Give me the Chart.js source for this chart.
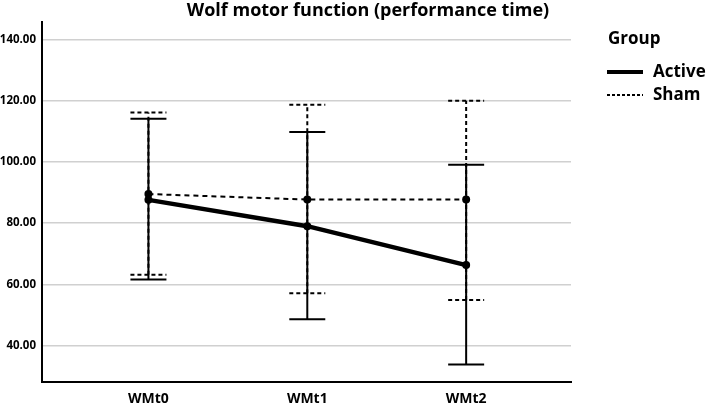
<!DOCTYPE html>
<html>
<head>
<meta charset="utf-8">
<script src="https://cdn.jsdelivr.net/npm/chart.js@4"></script>
<style>
  html, body { margin: 0; padding: 0; background: #fff; }
  #wrap { width: 708px; height: 404px; position: relative; }
</style>
</head>
<body>
<div id="wrap"><canvas id="chart"></canvas></div>
<script>
// data
const categories = ['WMt0', 'WMt1', 'WMt2'];
const activeMean = [87.6, 79.0, 66.3];
const activeLow = [61.6, 48.6, 33.8];
const activeHigh = [114.1, 109.8, 99.1];
const shamMean = [89.5, 87.7, 87.7];
const shamLow = [63.1, 57.1, 54.9];
const shamHigh = [116.1, 118.7, 120.0];
const yTicks = [40, 60, 80, 100, 120, 140];

const FONT = '"Open Sans", sans-serif';

function toPoints(values) {
    return values.map((v, i) => ({ x: i, y: v }));
}

// error bars drawn from the low/high arrays through the chart scales
const errorBars = {
    id: 'errorBars',
    afterDatasetsDraw(chart) {
        const ctx = chart.ctx;
        const xs = chart.scales.x;
        const ys = chart.scales.y;
        const bars = [
            { low: shamLow, high: shamHigh, dash: [4, 3] },
            { low: activeLow, high: activeHigh, dash: [] }
        ];
        ctx.save();
        ctx.strokeStyle = '#000';
        ctx.lineWidth = 2;
        bars.forEach(b => {
            ctx.setLineDash(b.dash);
            b.low.forEach((lo, i) => {
                const x = xs.getPixelForValue(i);
                const yLo = ys.getPixelForValue(lo);
                const yHi = ys.getPixelForValue(b.high[i]);
                ctx.beginPath();
                ctx.moveTo(x, yLo);
                ctx.lineTo(x, yHi);
                ctx.moveTo(x - 18, yLo);
                ctx.lineTo(x + 18, yLo);
                ctx.moveTo(x - 18, yHi);
                ctx.lineTo(x + 18, yHi);
                ctx.stroke();
            });
        });
        ctx.restore();
    }
};

const titleAndLegend = {
    id: 'titleAndLegend',
    afterDraw(chart) {
        const ctx = chart.ctx;
        ctx.save();
        ctx.fillStyle = '#000';
        ctx.textBaseline = 'middle';
        ctx.font = 'bold 18px ' + FONT;
        ctx.textAlign = 'center';
        ctx.fillText('Wolf motor function (performance time)', 368, 11);

        ctx.textAlign = 'left';
        ctx.font = 'bold 17px ' + FONT;
        ctx.fillText('Group', 608, 39);
        ctx.fillText('Active', 653, 72);
        ctx.fillText('Sham', 653, 95);

        ctx.strokeStyle = '#000';
        ctx.lineWidth = 4;
        ctx.beginPath();
        ctx.moveTo(607, 72);
        ctx.lineTo(643, 72);
        ctx.stroke();
        ctx.lineWidth = 2;
        ctx.setLineDash([3, 2]);
        ctx.beginPath();
        ctx.moveTo(607, 95);
        ctx.lineTo(643, 95);
        ctx.stroke();
        ctx.restore();
    }
};

new Chart(document.getElementById('chart'), {
    type: 'line',
    data: {
        datasets: [
            {
                label: 'Sham',
                data: toPoints(shamMean),
                borderColor: '#000',
                backgroundColor: '#000',
                borderWidth: 2,
                borderDash: [5, 4],
                pointRadius: 4,
                pointBorderWidth: 0
            },
            {
                label: 'Active',
                data: toPoints(activeMean),
                borderColor: '#000',
                backgroundColor: '#000',
                borderWidth: 4.5,
                pointRadius: 4,
                pointBorderWidth: 0
            }
        ]
    },
    options: {
        responsive: true,
        maintainAspectRatio: false,
        animation: false,
        layout: { padding: { left: 0, top: 22, right: 137, bottom: 0 } },
        plugins: {
            legend: { display: false },
            title: { display: false },
            tooltip: { enabled: false }
        },
        scales: {
            x: {
                type: 'linear',
                min: -0.67,
                max: 2.66,
                afterBuildTicks: (scale) => {
                    scale.ticks = categories.map((c, i) => ({ value: i }));
                },
                afterFit: (scale) => { scale.height = 22; },
                grid: { display: false, drawTicks: false },
                border: { color: '#000', width: 2 },
                ticks: {
                    padding: 9,
                    color: '#000',
                    font: { family: FONT, size: 14, weight: 'bold' },
                    callback: (value) => categories[value]
                }
            },
            y: {
                min: 28.1,
                max: 145.7,
                afterBuildTicks: (scale) => {
                    scale.ticks = yTicks.map(v => ({ value: v }));
                },
                afterFit: (scale) => { scale.width = 42; },
                grid: { color: '#d0d0d0', lineWidth: 1.5, drawTicks: false },
                border: { color: '#000', width: 2 },
                ticks: {
                    padding: 6,
                    color: '#000',
                    font: { family: FONT, size: 11.5, weight: 'bold' },
                    callback: (value) => value.toFixed(2)
                }
            }
        }
    },
    plugins: [errorBars, titleAndLegend]
});
</script>
</body>
</html>
